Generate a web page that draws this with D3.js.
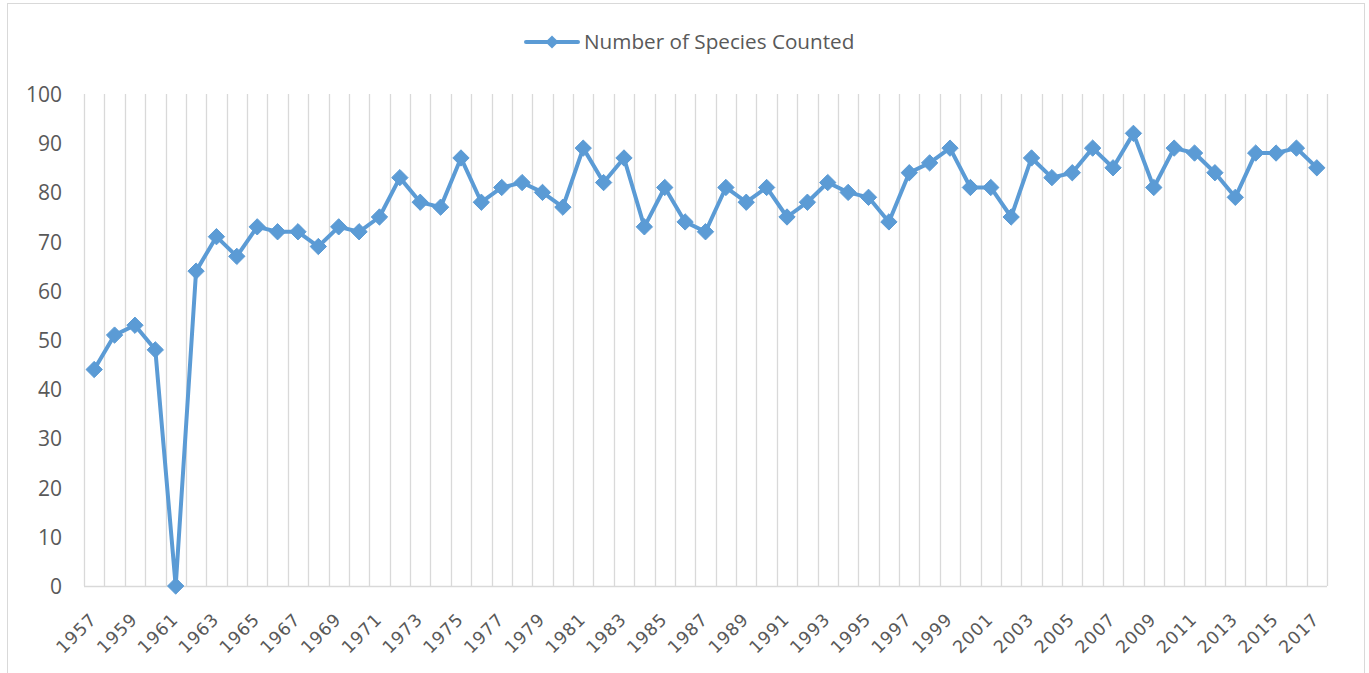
<!DOCTYPE html>
<html><head><meta charset="utf-8">
<script src="https://cdn.jsdelivr.net/npm/d3@7"></script>
<style>body{margin:0;background:#fff;}svg{display:block;}</style>
</head><body>
<svg id="c" width="1369" height="673"></svg>
<script>
const years = d3.range(1957, 2018).map(String);
const species = [44,51,53,48,0,64,71,67,73,72,72,69,73,72,75,83,78,77,87,78,81,82,80,77,89,82,87,73,81,74,72,81,78,81,75,78,82,80,79,74,84,86,89,81,81,75,87,83,84,89,85,92,81,89,88,84,79,88,88,89,85];
const yTicks = [0,10,20,30,40,50,60,70,80,90,100];
const seriesName = "Number of Species Counted";

const svg = d3.select("#c");
const m = {left:84, right:1327, top:94, bottom:586};
const color = "#5B9BD5";
const font = "'Open Sans', sans-serif";
const xfont = "'DejaVu Sans', sans-serif";

svg.append("rect").attr("x",7.5).attr("y",3.5).attr("width",1357).attr("height",680)
  .attr("fill","#fff").attr("stroke","#d9d9d9").attr("stroke-width",1);

const x = d3.scaleBand().domain(years).range([m.left, m.right]).paddingInner(0).paddingOuter(0);
const y = d3.scaleLinear().domain([0,100]).range([m.bottom, m.top]);

// vertical gridlines at category boundaries
const bounds = years.map(d => x(d)).concat([x(years[years.length-1]) + x.bandwidth()]);
svg.append("g").selectAll("line").data(bounds).join("line")
  .attr("x1", d => Math.round(d)+0.5).attr("x2", d => Math.round(d)+0.5)
  .attr("y1", m.top).attr("y2", m.bottom)
  .attr("stroke","#d9d9d9").attr("stroke-width",1.3);

// x axis line
svg.append("line").attr("x1",m.left).attr("x2",m.right).attr("y1",m.bottom+0.5).attr("y2",m.bottom+0.5)
  .attr("stroke","#d9d9d9").attr("stroke-width",1.5);

// y axis labels
const yAxis = d3.axisLeft(y).tickValues(yTicks).tickSize(0).tickPadding(0);
const gy = svg.append("g").attr("transform",`translate(${m.left-22},0)`).call(yAxis);
gy.select(".domain").remove();
gy.selectAll("text").attr("font-family",font).attr("font-size",21).attr("fill","#595959").attr("dy","0.36em");

// x labels every other year
const xAxis = d3.axisBottom(x).tickValues(years.filter((d,i)=> i%2===0)).tickSize(0);
const gx = svg.append("g").attr("transform",`translate(0,${m.bottom})`).call(xAxis);
gx.select(".domain").remove();
gx.selectAll("text").attr("font-family",xfont).attr("font-size",17.5).attr("letter-spacing",0.9).attr("fill","#595959")
  .attr("text-anchor","end").attr("x",0).attr("y",0).attr("dy","0.36em")
  .attr("transform","translate(-1,30) rotate(-45)");

// line
const line = d3.line().x((d,i)=> x(years[i]) + x.bandwidth()/2).y(d => y(d));
svg.append("path").datum(species).attr("d", line).attr("fill","none")
  .attr("stroke",color).attr("stroke-width",4).attr("stroke-linejoin","round").attr("stroke-linecap","round");

const diamond = d3.symbol().type(d3.symbolDiamond2).size(170);
svg.append("g").selectAll("path").data(species).join("path")
  .attr("d", diamond)
  .attr("transform",(d,i)=>`translate(${x(years[i]) + x.bandwidth()/2},${y(d)})`)
  .attr("fill",color).attr("stroke",color).attr("stroke-width",1);

// legend
const lg = svg.append("g");
lg.append("line").attr("x1",526).attr("x2",578).attr("y1",42).attr("y2",42)
  .attr("stroke",color).attr("stroke-width",4).attr("stroke-linecap","round");
lg.append("path").attr("d", d3.symbol().type(d3.symbolDiamond2).size(110)).attr("transform","translate(552,42)")
  .attr("fill",color);
lg.append("text").attr("x",584).attr("y",42).attr("dy","0.36em").attr("font-family",font)
  .attr("font-size",20.7).attr("fill","#595959").text(seriesName);
</script>
</body></html>
